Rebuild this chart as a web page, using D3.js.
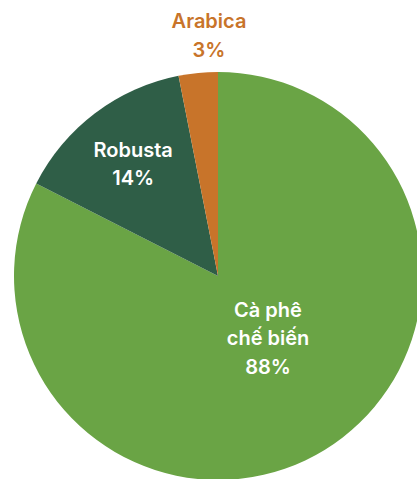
<!DOCTYPE html>
<html>
<head>
<meta charset="utf-8">
<script src="https://cdn.jsdelivr.net/npm/d3@7"></script>
<style>
  html, body { margin: 0; padding: 0; background: #fff; overflow: hidden; }
  svg { display: block; }
  text { font-family: Inter, "Noto Sans", sans-serif; font-weight: 600; font-size: 20px; }
</style>
</head>
<body>
<svg id="chart" width="417" height="479"></svg>
<script>
// slices, clockwise from 12 o'clock
const categories = ['Cà phê chế biến', 'Robusta', 'Arabica'];
const labelLines = [['Cà phê', 'chế biến'], ['Robusta'], ['Arabica']];
const shareLabels = ['88%', '14%', '3%'];
// slice sizes as drawn in the picture
const values = [82.5, 14.4, 3.1];
const colors = ['#6aa445', '#2f5e47', '#c8742a'];

const width = 417, height = 479;
const cx = 218, cy = 276, radius = 204;

const svg = d3.select('#chart');
const g = svg.append('g').attr('transform', `translate(${cx},${cy})`);

const data = categories.map((c, i) => ({
	name: c,
	value: values[i],
	lines: labelLines[i].concat([shareLabels[i]]),
	color: colors[i],
	inside: i < 2
}));

const pie = d3.pie().sort(null).value(d => d.value);
const arc = d3.arc().innerRadius(0).outerRadius(radius);

const arcs = pie(data);

g.selectAll('path')
	.data(arcs)
	.enter()
	.append('path')
	.attr('d', arc)
	.attr('fill', d => d.data.color);

// label placement: big slice nearer the centre, small one outside above
const labelPos = function(d){
	let mid = (d.startAngle + d.endAngle) / 2;
	let r = radius * 0.69;
	if(d.index === 0){ mid -= 0.13; r = radius * 0.39; }
	if(d.index === 2){ mid += 0.06; r = radius * 1.18; }
	return [Math.sin(mid) * r, -Math.cos(mid) * r];
};

const lineH = 28.5;

const labels = g.selectAll('.label')
	.data(arcs)
	.enter()
	.append('text')
	.attr('class', 'label')
	.attr('text-anchor', 'middle')
	.attr('fill', d => d.data.inside ? '#ffffff' : d.data.color)
	.attr('transform', d => {
		let p = labelPos(d);
		return `translate(${p[0]},${p[1]})`;
	});

labels.selectAll('tspan')
	.data(d => d.data.lines.map((t, i, arr) => ({ t: t, i: i, n: arr.length })))
	.enter()
	.append('tspan')
	.attr('x', 0)
	.attr('y', d => (d.i - (d.n - 1) / 2) * lineH)
	.attr('dy', '0.36em')
	.text(d => d.t);
</script>
</body>
</html>
